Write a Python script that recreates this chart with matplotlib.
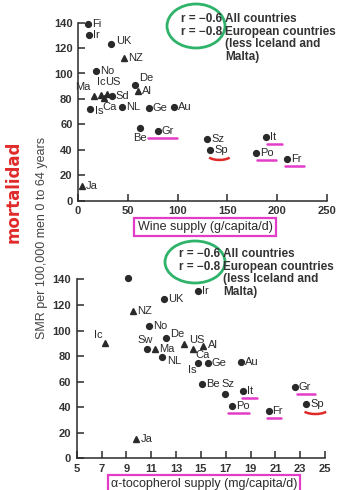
import numpy as np
import matplotlib
matplotlib.use('Agg')
import matplotlib.pyplot as plt
from matplotlib.patches import Ellipse, Arc
from matplotlib.lines import Line2D

plt.rcParams['font.family'] = ['Liberation Sans', 'DejaVu Sans']

W, H = 338, 490

# top panel: wine supply
wine_countries = ['Fi', 'Ir', 'UK', 'NZ', 'No', 'Ma', 'Ic', 'Ca', 'US', 'Sd', 'De', 'Al',
                  'Is', 'NL', 'Ge', 'Au', 'Be', 'Gr', 'Sz', 'Sp', 'It', 'Po', 'Fr', 'Ja']
wine_supply = [10, 11, 33, 46, 18, 16, 23, 26, 29, 34, 57, 60,
               12, 44, 71, 96, 62, 80, 130, 133, 189, 179, 210, 4]
wine_smr = [139, 130, 123, 112, 102, 82.5, 83, 81, 84, 82.5, 91, 86,
            72.5, 74, 73, 74, 57.5, 55, 48.5, 40, 50, 37.5, 33, 11.5]

# bottom panel: alpha-tocopherol supply
toco_countries = ['Fi', 'Ir', 'UK', 'NZ', 'No', 'Ma', 'Ic', 'Ca', 'US', 'Sw', 'De', 'Al',
                  'Is', 'NL', 'Ge', 'Au', 'Be', 'Gr', 'Sz', 'Sp', 'It', 'Po', 'Fr', 'Ja']
toco_supply = [9.15, 14.8, 12.05, 9.55, 10.85, 11.3, 7.3, 14.4, 13.65, 10.65, 12.2, 15.2,
               14.75, 11.85, 15.55, 18.25, 15.1, 22.55, 16.95, 23.5, 18.4, 17.5, 20.45, 9.8]
toco_smr = [141, 131, 125, 115, 103.5, 85.5, 90, 85.5, 89.5, 85.5, 94, 88,
            74.5, 79, 74.5, 75.5, 58.5, 56, 50.5, 42.5, 53, 41, 37, 15]

# countries drawn with a triangle
triangle_countries = ['NZ', 'Ma', 'Ic', 'Ca', 'US', 'Al', 'Ja']
underlined = ['Gr', 'It', 'Po', 'Fr']
circled = ['Sp']

r_values = ['r = \u22120.6', 'r = \u22120.8']
r_notes = ['All countries', 'European countries', '(less Iceland and', 'Malta)']

# label offsets in pixels (dx, dy, ha); default is right of the marker
wine_offsets = {
    'UK': (5, 3, 'left'), 'Ma': (-3, 9, 'right'), 'Ic': (0, 13, 'center'),
    'US': (6, 12, 'center'), 'Ca': (6, -9, 'center'), 'De': (4, 7, 'left'),
    'Is': (5, -2, 'left'), 'Be': (0, -10, 'center'),
}
toco_offsets = {
    'De': (4, 4, 'left'), 'US': (5, 4, 'left'), 'Ic': (-7, 8, 'center'),
    'Sw': (-2, 9, 'center'), 'NL': (5, -4, 'left'), 'Ca': (2, -6, 'left'),
    'Al': (5, 1, 'left'), 'Is': (-6, -7, 'center'), 'Sz': (3, 10, 'center'),
}
# underline extents relative to the marker (x0, x1)
wine_lines = {'Gr': (-10, 19), 'It': (1, 16), 'Po': (1, 20), 'Fr': (-2, 17)}
toco_lines = {'It': (-1, 14), 'Po': (-4, 17), 'Fr': (-2, 12), 'Gr': (2, 20)}

ink = '#2a2a2a'
pink = '#e23cc8'
red = '#e02a2a'
green = '#2fb36a'


def px(x, y):
    return x / W, 1 - y / H


fig = plt.figure(figsize=(W / 100, H / 100), dpi=100)
ax1 = fig.add_axes([0.231, 0.590, 0.736, 0.364])
ax2 = fig.add_axes([0.227, 0.0647, 0.7345, 0.365])


def draw_panel(ax, countries, xs, ys, offsets, xlim, xticks, xlabel, label_xy):
    for c, x, y in zip(countries, xs, ys):
        mk = '^' if c in triangle_countries else 'o'
        ax.plot(x, y, marker=mk, ms=4.2 if mk == 'o' else 4.6, color=ink, clip_on=False, ls='none')
        dx, dy, ha = offsets.get(c, (4, 0, 'left'))
        ax.annotate(c, (x, y), xytext=(dx, dy), textcoords='offset pixels',
                    ha=ha, va='center', fontsize=8, color=ink)
    ax.set_xlim(*xlim)
    ax.set_ylim(0, 140)
    ax.set_xticks(xticks)
    ax.set_yticks(range(0, 141, 20))
    for s in ['top', 'right']:
        ax.spines[s].set_visible(False)
    for s in ['left', 'bottom']:
        ax.spines[s].set_color(ink)
        ax.spines[s].set_linewidth(1.1)
    ax.tick_params(direction='in', length=5, width=1.1, color=ink, labelcolor='#333',
                   labelsize=8, pad=4)
    for t in ax.get_xticklabels() + ax.get_yticklabels():
        t.set_fontweight('bold')
    ax.set_xlabel(xlabel, fontsize=9, color=ink, va='center',
                  bbox=dict(boxstyle='square,pad=0.25', fc='none', ec=pink, lw=1.6))
    ax.xaxis.set_label_coords(*label_xy)


draw_panel(ax1, wine_countries, wine_supply, wine_smr, wine_offsets,
           (0, 250), range(0, 251, 50), 'Wine supply (g/capita/d)', (0.51, -0.146))
draw_panel(ax2, toco_countries, toco_supply, toco_smr, toco_offsets,
           (5, 25), range(5, 26, 2), '\u03b1-tocopherol supply (mg/capita/d)', (0.513, -0.144))


# handwritten marks under some labels
def marks(ax, countries, xs, ys, lines, arc_w):
    for c, x, y in zip(countries, xs, ys):
        dx, dy = ax.transData.transform((x, y))
        if c in underlined:
            x0, x1 = lines[c]
            fig.add_artist(Line2D([(dx + x0) / W, (dx + x1) / W], [(dy - 7) / H, (dy - 7) / H],
                                  color=pink, lw=1.8, solid_capstyle='round'))
        if c in circled:
            fig.add_artist(Arc(((dx + 9) / W, (dy - 5) / H), arc_w / W, 10 / H,
                               theta1=190, theta2=350, color=red, lw=1.8))


marks(ax1, wine_countries, wine_supply, wine_smr, wine_lines, 24)
marks(ax2, toco_countries, toco_supply, toco_smr, toco_lines, 26)

# correlation notes
for top, rx, nx in [(19, 222, 225), (254, 220, 223)]:
    for i, r in enumerate(r_values):
        fig.text(*px(rx, top + i * 12.6), r, ha='right', va='center', fontsize=8.5,
                 fontweight='bold', color='#333')
    for i, n in enumerate(r_notes):
        fig.text(*px(nx, top + i * 12.6), n, ha='left', va='center', fontsize=8.5,
                 fontweight='bold', color='#333')

fig.add_artist(Ellipse(px(196, 26), 58 / W, 44 / H, fill=False, ec=green, lw=2))
fig.add_artist(Ellipse(px(195, 262), 60 / W, 42 / H, fill=False, ec=green, lw=2))

fig.text(*px(42, 238), 'SMR per 100,000 men 0 to 64 years', rotation=90,
         ha='center', va='center', fontsize=9, color='#444')
fig.text(*px(14, 192), 'mortalidad', rotation=90, ha='center', va='center',
         fontsize=12, fontweight='bold', color=red, family='DejaVu Sans')

fig.savefig('out.png', dpi=100)
